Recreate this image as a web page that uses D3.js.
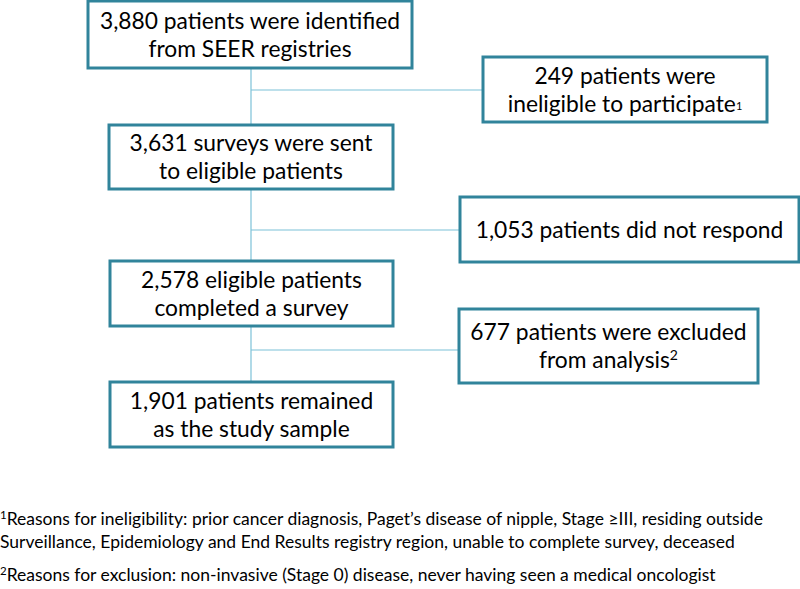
<!DOCTYPE html>
<html>
<head>
<meta charset="utf-8">
<script src="https://cdn.jsdelivr.net/npm/d3@7"></script>
<style>
  html, body { margin: 0; padding: 0; background: #fff; }
  svg { display: block; }
  text { font-family: Lato, "Noto Sans", sans-serif; fill: #000; }
</style>
</head>
<body>
<svg id="chart" width="800" height="589"></svg>
<script>
// ---- data ----
const mainSteps = [
  { id: "identified", lines: [["3,880 patients were identified"], ["from SEER registries"]] },
  { id: "sent",       lines: [["3,631 surveys were sent"], ["to eligible patients"]] },
  { id: "completed",  lines: [["2,578 eligible patients"], ["completed a survey"]] },
  { id: "sample",     lines: [["1,901 patients remained"], ["as the study sample"]] }
];
const exclusions = [
  { id: "ineligible", lines: [["249 patients were"], ["ineligible to participate", "1"]] },
  { id: "noresponse", lines: [["1,053 patients did not respond"]] },
  { id: "excluded",   lines: [["677 patients were excluded"], ["from analysis", "2"]] }
];
const footnotes = [
  ["1", "Reasons for ineligibility: prior cancer diagnosis, Paget\u2019s disease of nipple, Stage \u2265III, residing outside"],
  ["",  "Surveillance, Epidemiology and End Results registry region, unable to complete survey, deceased"],
  ["2", "Reasons for exclusion: non-invasive (Stage 0) disease, never having seen a medical oncologist"]
];

// ---- layout ----
const svg = d3.select("#chart");
const border = "#31849b";
const connector = "#7cc2d8";

const mainBox = [
  { x0: 88,  x1: 412, y0: 1,   y1: 68 },
  { x0: 109, x1: 393, y0: 125, y1: 189 },
  { x0: 110, x1: 393, y0: 261, y1: 326 },
  { x0: 110, x1: 393, y0: 382, y1: 447 }
];
const sideBox = [
  { x0: 483, x1: 767, y0: 57,  y1: 122, cy: 90 },
  { x0: 460, x1: 799, y0: 197, y1: 262, cy: 230 },
  { x0: 459, x1: 758, y0: 309, y1: 383, cy: 350 }
];
const spineX = 251;

const fontSize = 22.8;
const lineH = 28;

// connectors
const gLines = svg.append("g").attr("stroke", connector).attr("stroke-width", 1.2).attr("fill", "none");
mainBox.slice(0, -1).forEach((b, i) => {
  const next = mainBox[i + 1];
  gLines.append("line").attr("x1", spineX).attr("x2", spineX).attr("y1", b.y1).attr("y2", next.y0);
  const s = sideBox[i];
  gLines.append("line").attr("x1", spineX).attr("x2", s.x0).attr("y1", s.cy).attr("y2", s.cy);
});

function drawBox(d, b) {
  const g = svg.append("g");
  g.append("rect")
    .attr("x", b.x0).attr("y", b.y0)
    .attr("width", b.x1 - b.x0).attr("height", b.y1 - b.y0)
    .attr("fill", "#fff").attr("stroke", border).attr("stroke-width", 3);
  const cx = (b.x0 + b.x1) / 2;
  const cy = (b.y0 + b.y1) / 2;
  const n = d.lines.length;
  d.lines.forEach((ln, i) => {
    const baseline = cy + (i - (n - 1) / 2) * lineH + fontSize * 0.36;
    const t = g.append("text")
      .attr("x", cx).attr("y", baseline)
      .attr("text-anchor", "middle")
      .attr("font-size", fontSize);
    t.append("tspan").text(ln[0]);
    if (ln[1]) {
      const small = d.id === "ineligible";
      t.append("tspan")
        .attr("font-size", small ? 11 : 14)
        .attr("dy", small ? -2 : -8)
        .text(ln[1]);
    }
  });
}
mainSteps.forEach((d, i) => drawBox(d, mainBox[i]));
exclusions.forEach((d, i) => drawBox(d, sideBox[i]));

// footnotes
const footY = [525, 548, 581];
footnotes.forEach((f, i) => {
  const t = svg.append("text").attr("x", 0).attr("y", footY[i]).attr("font-size", 17.5);
  if (f[0]) t.append("tspan").attr("font-size", 11.5).attr("dy", -6).text(f[0]);
  t.append("tspan").attr("dy", f[0] ? 6 : 0).text(f[1]);
});
</script>
</body>
</html>
